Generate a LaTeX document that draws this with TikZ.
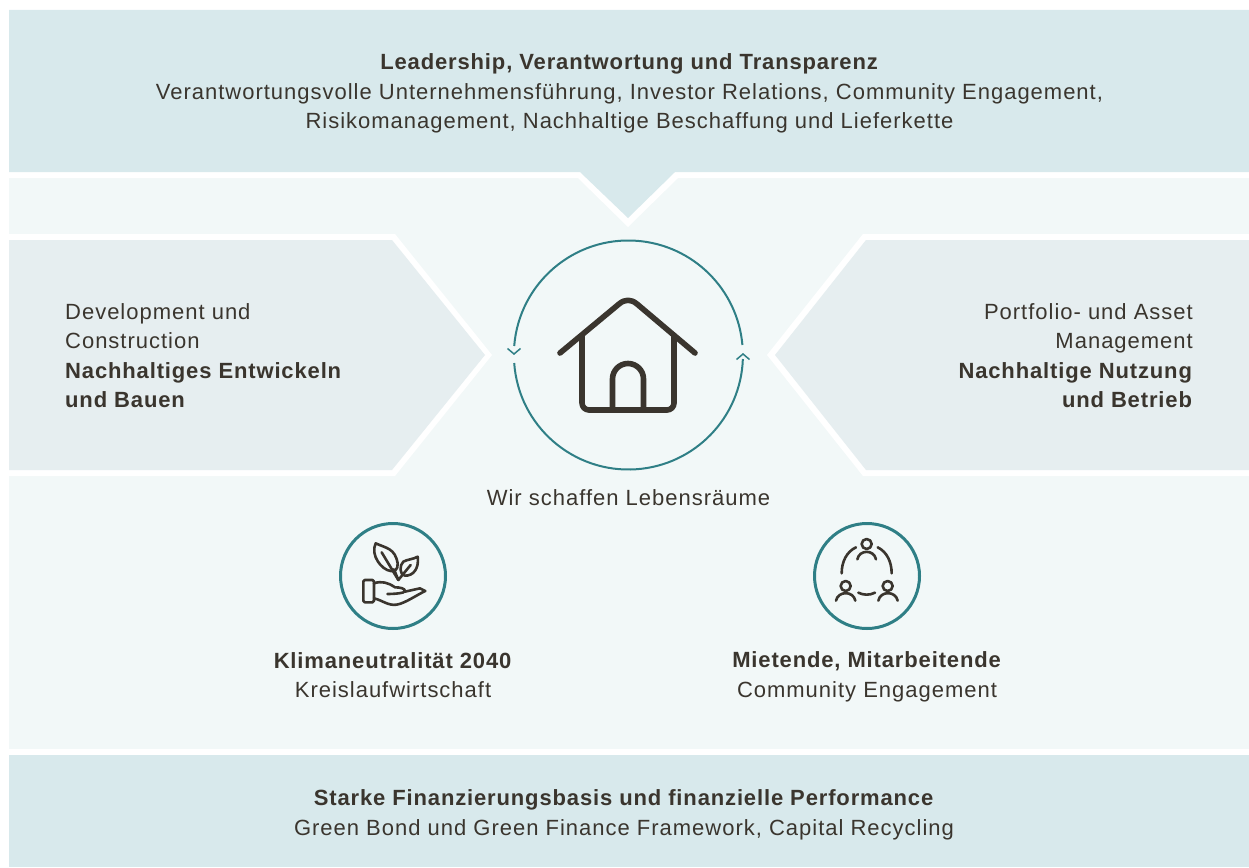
\documentclass[tikz,border=0pt]{standalone}
\usepackage{fontspec}
\setmainfont[LetterSpace=4.5,BoldFeatures={LetterSpace=3.9}]{Liberation Sans}
\definecolor{bandblue}{HTML}{D8E9EC}
\definecolor{softbg}{HTML}{F2F8F8}
\definecolor{sidegrey}{HTML}{E6EEF0}
\definecolor{ringteal}{HTML}{2F7F86}
\definecolor{inkdark}{HTML}{3A352E}
\tikzset{
  label/.style={text=inkdark, inner sep=0pt, font=\fontsize{22}{29.5}\selectfont},
  icon/.style={draw=inkdark, line width=2.6pt, line cap=round, line join=round},
  ring/.style={draw=ringteal, line width=2pt},
  smallring/.style={draw=ringteal, line width=3pt}
}
\begin{document}
\begin{tikzpicture}[x=1pt,y=-1pt]
\useasboundingbox (0,0) rectangle (1249,867);

\fill[softbg] (9,178) rectangle (1249,749);
\fill[white] (9,172) -- (9,178) -- (578,178) -- (628,227) -- (678,178) -- (1249,178) -- (1249,172) -- cycle;
\fill[bandblue] (9,10) -- (1249,10) -- (1249,172) -- (675,172) -- (628,218) -- (580,172) -- (9,172) -- cycle;

\fill[white] (9,234) -- (395,234) -- (492,355) -- (395,476) -- (9,476) -- cycle;
\fill[sidegrey] (9,240) -- (392,240) -- (485,355) -- (392,470) -- (9,470) -- cycle;
\fill[white] (1249,234) -- (863,234) -- (767,355) -- (863,476) -- (1249,476) -- cycle;
\fill[sidegrey] (1249,240) -- (866,240) -- (775,355) -- (866,470) -- (1249,470) -- cycle;

\fill[bandblue] (9,755) rectangle (1249,867);

\node[label, align=center] (leadership) at (629.5,93.5) {\textbf{Leadership, Verantwortung und Transparenz}\\Verantwortungsvolle Unternehmensführung, Investor Relations, Community Engagement,\\Risikomanagement, Nachhaltige Beschaffung und Lieferkette};
\node[label, align=left, anchor=west] (development) at (65,355.5) {Development und\\Construction\\\textbf{Nachhaltiges Entwickeln}\\\textbf{und Bauen}};
\node[label, align=right, anchor=east] (portfolio) at (1193,355.5) {Portfolio- und Asset\\Management\\\textbf{Nachhaltige Nutzung}\\\textbf{und Betrieb}};
\node[label] (lebensraeume) at (628.5,498) {Wir schaffen Lebensräume};
\node[label, align=center] (klima) at (393,675) {\textbf{Klimaneutralität 2040}\\Kreislaufwirtschaft};
\node[label, align=center] (mietende) at (867,677) {\textbf{Mietende, Mitarbeitende}\\Community Engagement};
\node[label, align=center] (finanzierung) at (624,815) {\textbf{Starke Finanzierungsbasis und finanzielle Performance}\\Green Bond und Green Finance Framework, Capital Recycling};

\draw[ring] (514.2,346) arc[start angle=184.5, end angle=355, radius=114.5];
\draw[ring] (514.2,363) arc[start angle=176, end angle=2, radius=114.5];
\draw[ringteal, line width=1.5pt] (507.5,348.5) -- (514,354) -- (520.5,348.5);
\draw[ringteal, line width=1.5pt] (736.5,359.5) -- (743,354) -- (749.5,359.5);

\begin{scope}[draw=inkdark, line width=5.6pt, line cap=round, line join=round]
\draw (560,353) -- (619,304) .. controls (625,299) and (631,299) .. (637,304) -- (695,353);
\draw[line cap=butt] (582,335) -- (582,403) arc[start angle=180, end angle=90, radius=7] -- (667,410) arc[start angle=90, end angle=0, radius=7] -- (674,335);
\draw[line cap=butt] (612.5,410) -- (612.5,379) arc[start angle=180, end angle=360, radius=15.5] -- (643.5,410);
\end{scope}

\draw[smallring] (393,576) circle[radius=52.5];
\draw[smallring] (867,576) circle[radius=52.5];

\begin{scope}[shift={(320,510)},scale=0.3333]
\draw[icon] (167,100) .. controls (200,115) and (225,115) .. (233,160) .. controls (235,180) and (222,185) .. (212,183) .. controls (185,180) and (150,135) .. (167,100) -- cycle;
\draw[icon] (185,127) -- (235,210);
\draw[icon] (293,140) .. controls (298,175) and (280,198) .. (255,197) .. controls (238,195) and (238,165) .. (250,155) .. controls (262,148) and (280,148) .. (293,140) -- cycle;
\draw[icon] (272,165) -- (235,210) -- (222,178);
\draw[icon, rounded corners=1.5pt] (130,210) rectangle (162,277);
\draw[icon] (162,220) .. controls (185,212) and (205,218) .. (225,232) .. controls (240,232) and (255,235) .. (255,243) .. controls (255,250) and (220,252) .. (202,252);
\draw[icon] (255,245) -- (300,235) -- (316,243) .. controls (290,255) and (255,280) .. (230,284) .. controls (205,288) and (185,270) .. (162,265);
\end{scope}

\begin{scope}[shift={(800,510)},scale=0.3333]
\draw[icon] (200,102) circle[radius=15];
\draw[icon] (172,148) .. controls (178,118) and (222,118) .. (228,148);
\draw[icon] (137,228) circle[radius=15];
\draw[icon] (108,272) .. controls (114,242) and (160,242) .. (166,272);
\draw[icon] (263,228) circle[radius=15];
\draw[icon] (235,272) .. controls (241,242) and (287,242) .. (293,272);
\draw[icon] (125,190) .. controls (125,155) and (140,125) .. (168,112);
\draw[icon] (233,112) .. controls (260,125) and (275,155) .. (275,190);
\draw[icon] (175,248) .. controls (190,256) and (210,256) .. (225,248);
\end{scope}
\end{tikzpicture}
\end{document}
